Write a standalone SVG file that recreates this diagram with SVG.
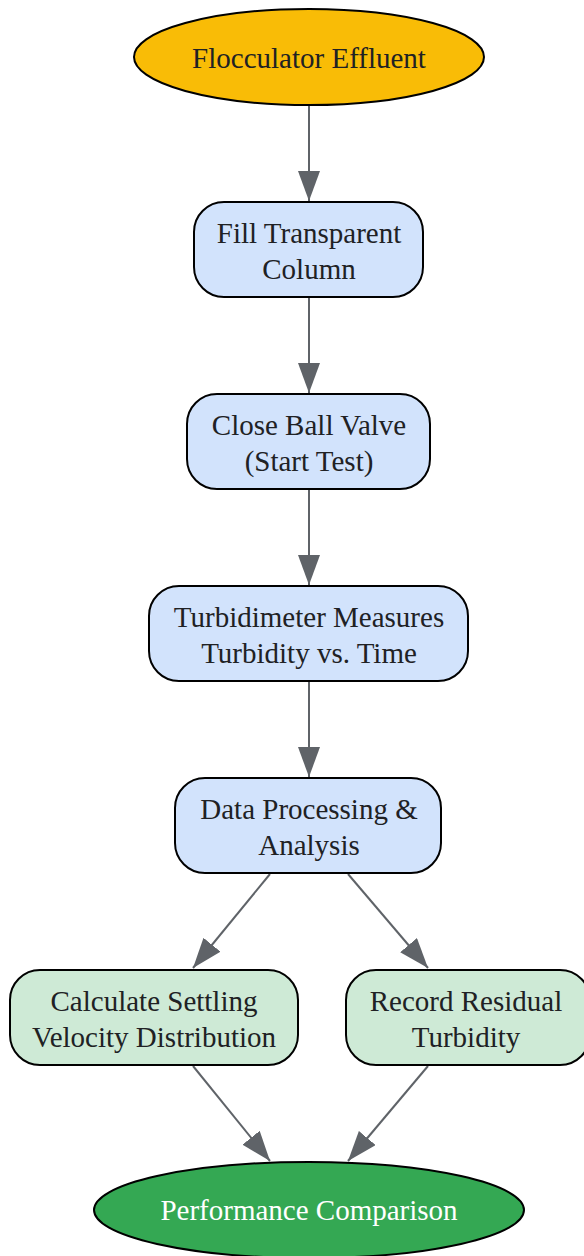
<svg xmlns="http://www.w3.org/2000/svg" width="584" height="1256" viewBox="0 0 584 1256">
<style>
.n{stroke:#000;stroke-width:2}
.b{fill:#d2e3fc}
.g{fill:#ceead6}
.t{font-family:"Liberation Serif",serif;font-size:29px;fill:#202124;text-anchor:middle}
.e{stroke:#5f6368;stroke-width:2;fill:none;marker-end:url(#ah2)}
</style>
<defs>
<marker id="ah2" viewBox="0 0 30 22" refX="30" refY="11" markerWidth="30" markerHeight="22" markerUnits="userSpaceOnUse" orient="auto">
<path d="M0,0 L30,11 L0,22 z" fill="#5f6368"/>
</marker>
</defs>
<g id="edges">
<line class="e" x1="309" y1="106" x2="309" y2="201"/>
<line class="e" x1="309" y1="298" x2="309" y2="393"/>
<line class="e" x1="309" y1="490" x2="309" y2="585"/>
<line class="e" x1="309" y1="682" x2="309" y2="777"/>
<line class="e" x1="270" y1="874" x2="193" y2="968"/>
<line class="e" x1="348" y1="874" x2="428" y2="968"/>
<line class="e" x1="193" y1="1066" x2="270" y2="1161"/>
<line class="e" x1="428" y1="1066" x2="348" y2="1161"/>
</g>
<g id="n0"><ellipse class="n" cx="309" cy="57" rx="175" ry="48" fill="#f9bc06"/><text class="t" x="309" y="68">Flocculator Effluent</text></g>
<g id="n1"><rect class="n b" x="194" y="202" width="229" height="95" rx="30"/><text class="t" x="309" y="243">Fill Transparent</text><text class="t" x="309" y="279">Column</text></g>
<g id="n2"><rect class="n b" x="187" y="394" width="243" height="95" rx="30"/><text class="t" x="309" y="435">Close Ball Valve</text><text class="t" x="309" y="471">(Start Test)</text></g>
<g id="n3"><rect class="n b" x="149" y="586" width="319" height="95" rx="30"/><text class="t" x="309" y="627">Turbidimeter Measures</text><text class="t" x="309" y="663">Turbidity vs. Time</text></g>
<g id="n4"><rect class="n b" x="175" y="778" width="266" height="95" rx="30"/><text class="t" x="309" y="819">Data Processing &amp;</text><text class="t" x="309" y="855">Analysis</text></g>
<g id="n5"><rect class="n g" x="10" y="970" width="288" height="95" rx="30"/><text class="t" x="154" y="1011">Calculate Settling</text><text class="t" x="154" y="1047">Velocity Distribution</text></g>
<g id="n6"><rect class="n g" x="346" y="970" width="244" height="95" rx="30"/><text class="t" x="466" y="1011">Record Residual</text><text class="t" x="466" y="1047">Turbidity</text></g>
<g id="n7"><ellipse class="n" cx="309" cy="1210" rx="215" ry="48" fill="#34a853"/><text class="t" x="309" y="1220" style="fill:#fff">Performance Comparison</text></g>
</svg>
